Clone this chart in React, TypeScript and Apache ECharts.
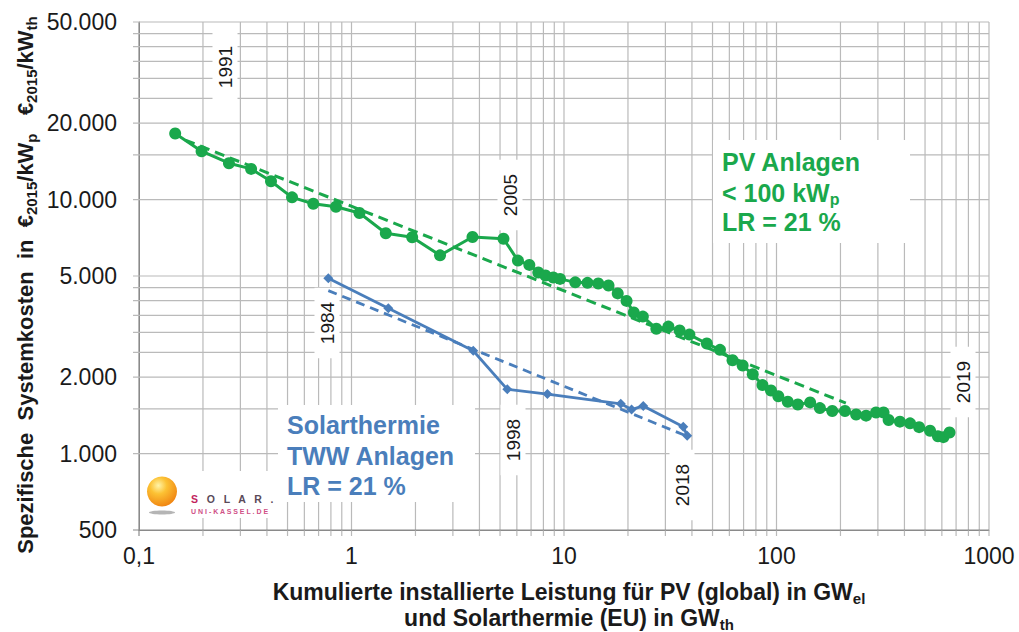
import React, { useEffect, useRef } from "react";
import * as echarts from "echarts";

// ---- data ----
const pvX = [0.148, 0.197, 0.265, 0.337, 0.418, 0.525, 0.661, 0.845, 1.09, 1.45, 1.93, 2.61, 3.71, 5.19, 6.07, 6.87, 7.57, 8.18, 8.9, 9.58, 11.3, 12.9, 14.5, 16.2, 17.9, 19.7, 21.3, 23.5, 27.2, 31.0, 35.0, 38.9, 47.0, 54.2, 62.1, 69.3, 77.3, 85.9, 94.2, 102, 113, 126, 144, 160, 183, 210, 237, 264, 294, 319, 337, 381, 425, 469, 528, 575, 610, 652];
const pvY = [18200, 15500, 13900, 13200, 11800, 10200, 9630, 9370, 8850, 7370, 7100, 6030, 7120, 7010, 5750, 5530, 5160, 5020, 4930, 4870, 4720, 4700, 4670, 4590, 4270, 3990, 3590, 3460, 3100, 3160, 3050, 2940, 2710, 2560, 2330, 2220, 2050, 1860, 1770, 1680, 1600, 1560, 1590, 1510, 1470, 1470, 1425, 1410, 1450, 1450, 1355, 1335, 1315, 1270, 1230, 1170, 1160, 1210];
const stX = [0.778, 1.49, 3.74, 5.41, 8.35, 18.5, 20.8, 23.6, 36.4, 38.0];
const stY = [4900, 3730, 2540, 1790, 1715, 1570, 1490, 1540, 1275, 1176];
const pvTrendX = [0.165, 212];
const pvTrendY = [17150, 1580];
const stTrendX = [0.778, 38.5];
const stTrendY = [4380, 1165];

const xGridValues = [0.1, 0.2, 0.3, 0.4, 0.5, 0.6, 0.7, 0.8, 0.9, 1, 2, 3, 4, 5, 6, 7, 8, 9, 10, 20, 30, 40, 50, 60, 70, 80, 90, 100, 200, 300, 400, 500, 600, 700, 800, 900, 1000];
const yMajorTicks = [500, 1000, 2000, 5000, 10000, 20000, 50000];
const yMinorTicks = [1500, 2500, 3000, 3500, 4000, 4500, 15000, 25000, 30000, 35000, 40000, 45000];
const yearLabels = ["1991", "2005", "1984", "1998", "2018", "2019"];

const X_MIN = 0.1, X_MAX = 1000, Y_MIN = 500, Y_MAX = 50000;
const FONT = '"Liberation Sans", Arial, sans-serif';
const GREEN = "#1aa84c";
const BLUE = "#4a7ebb";
const GRID = "#bababa";
const AXIS = "#8a8a8a";
const TXT = "#1a1a1a";

const fmtY = (v: number) => String(v).replace(/\B(?=(\d{3})+(?!\d))/g, ".");
const fmtX = (v: number) => String(v).replace(".", ",");

function rt(size: number, color: string, weight = "bold", lh = 28) {
  return { fontSize: size, fontWeight: weight, fontFamily: FONT, fill: color, color, lineHeight: lh };
}
function sub(size: number, color: string, lh = 14) {
  return { fontSize: size, fontWeight: "bold", fontFamily: FONT, fill: color, color, lineHeight: lh, verticalAlign: "bottom" };
}

function yearLabel(text: string, x: number, y: number) {
  return {
    type: "text", x, y, rotation: Math.PI / 2, z: 6,
    style: {
      text, fontSize: 19, fontFamily: FONT, fill: TXT, align: "center", verticalAlign: "middle",
      backgroundColor: "#ffffff", padding: [3, 14],
    },
  };
}

export default function App() {
  const ref = useRef<HTMLDivElement>(null);
  useEffect(() => {
    if (!ref.current) return;
    const chart = echarts.init(ref.current, undefined, { renderer: "svg" });
    const option: any = {
      animation: false,
      backgroundColor: "#ffffff",
      grid: { left: 139, right: 30, top: 22, bottom: 102 },
      xAxis: {
        type: "log", logBase: 10, min: X_MIN, max: X_MAX,
        axisLine: { show: true, lineStyle: { color: AXIS, width: 1 } },
        axisTick: { show: false },
        splitLine: { show: false },
        axisLabel: { formatter: (v: number) => fmtX(v), fontSize: 23, color: TXT, fontFamily: FONT, margin: 14 },
      },
      yAxis: {
        type: "log", logBase: 10, min: Y_MIN, max: Y_MAX,
        axisLine: { show: true, lineStyle: { color: AXIS, width: 1 } },
        axisTick: { show: false },
        splitLine: { show: false },
        axisLabel: { show: false },
      },
      series: [
        {
          type: "custom", name: "vgrid", coordinateSystem: "cartesian2d", z: 1, silent: true, clip: false,
          data: xGridValues.map((v) => [v, 1000]),
          renderItem: (_p: any, api: any) => {
            const v = api.value(0);
            const a = api.coord([v, Y_MIN]);
            const b = api.coord([v, Y_MAX]);
            return {
              type: "line",
              shape: { x1: a[0], y1: a[1] + 6, x2: b[0], y2: b[1] },
              style: { stroke: v === X_MIN ? AXIS : GRID, lineWidth: 1.2 },
            };
          },
        },
        {
          type: "custom", name: "hgrid", coordinateSystem: "cartesian2d", z: 1, silent: true, clip: false,
          data: [...yMajorTicks, ...yMinorTicks].map((v) => [1, v]),
          renderItem: (_p: any, api: any) => {
            const v = api.value(1);
            const a = api.coord([X_MIN, v]);
            const b = api.coord([X_MAX, v]);
            const children: any[] = [
              {
                type: "line",
                shape: { x1: a[0] - 6, y1: a[1], x2: b[0], y2: b[1] },
                style: { stroke: v === Y_MIN ? AXIS : GRID, lineWidth: 1.2 },
              },
            ];
            if (yMajorTicks.indexOf(v) >= 0) {
              children.push({
                type: "text", x: a[0] - 22, y: a[1],
                style: { text: fmtY(v), align: "right", verticalAlign: "middle", fontSize: 23, fontFamily: FONT, fill: TXT },
              });
            }
            return { type: "group", children };
          },
        },
        {
          type: "line", name: "PV Trend", z: 10, silent: true,
          data: pvTrendX.map((x, i) => [x, pvTrendY[i]]),
          showSymbol: false, symbol: "none",
          lineStyle: { color: GREEN, width: 3, type: [10, 6] },
        },
        {
          type: "line", name: "PV Anlagen", z: 11,
          data: pvX.map((x, i) => [x, pvY[i]]),
          symbol: "circle", symbolSize: 12,
          itemStyle: { color: GREEN },
          lineStyle: { color: GREEN, width: 3 },
        },
        {
          type: "line", name: "Solarthermie Trend", z: 10, silent: true,
          data: stTrendX.map((x, i) => [x, stTrendY[i]]),
          showSymbol: false, symbol: "none",
          lineStyle: { color: BLUE, width: 2.8, type: [9, 6] },
        },
        {
          type: "line", name: "Solarthermie", z: 11,
          data: stX.map((x, i) => [x, stY[i]]),
          symbol: "diamond", symbolSize: 10,
          itemStyle: { color: BLUE },
          lineStyle: { color: BLUE, width: 2.8 },
        },
      ],
      graphic: [
        // white boxes behind annotations
        { type: "rect", z: 5, shape: { x: 713, y: 140, width: 197, height: 103 }, style: { fill: "#ffffff" } },
        { type: "rect", z: 5, shape: { x: 278, y: 405, width: 197, height: 97 }, style: { fill: "#ffffff" } },
        { type: "rect", z: 5, shape: { x: 140, y: 471, width: 143, height: 47 }, style: { fill: "#ffffff" } },
        // year labels
        yearLabel(yearLabels[0], 225, 67),
        yearLabel(yearLabels[1], 510, 195),
        yearLabel(yearLabels[2], 327, 323),
        yearLabel(yearLabels[3], 513, 440),
        yearLabel(yearLabels[4], 682, 485),
        yearLabel(yearLabels[5], 963, 382),
        // PV legend text
        { type: "text", z: 6, x: 722, y: 162, style: { text: "{b|PV Anlagen}", rich: { b: rt(25, GREEN) }, verticalAlign: "middle" } },
        { type: "text", z: 6, x: 722, y: 193, style: { text: "{b|< 100 kW}{s|p}", rich: { b: rt(25, GREEN), s: sub(16, GREEN) }, verticalAlign: "middle" } },
        { type: "text", z: 6, x: 722, y: 222, style: { text: "{b|LR = 21 %}", rich: { b: rt(25, GREEN) }, verticalAlign: "middle" } },
        // Solarthermie legend text
        { type: "text", z: 6, x: 287, y: 425, style: { text: "{b|Solarthermie}", rich: { b: rt(25, BLUE) }, verticalAlign: "middle" } },
        { type: "text", z: 6, x: 287, y: 456, style: { text: "{b|TWW Anlagen}", rich: { b: rt(25, BLUE) }, verticalAlign: "middle" } },
        { type: "text", z: 6, x: 287, y: 486, style: { text: "{b|LR = 21 %}", rich: { b: rt(25, BLUE) }, verticalAlign: "middle" } },
        // logo
        { type: "ellipse", z: 6, shape: { cx: 162, cy: 512.5, rx: 13, ry: 2 }, style: { fill: "#b5b5b5" } },
        {
          type: "circle", z: 6, shape: { cx: 162, cy: 491.5, r: 15 },
          style: {
            fill: new echarts.graphic.RadialGradient(0.38, 0.3, 0.8, [
              { offset: 0, color: "#fff4a8" },
              { offset: 0.35, color: "#fcc234" },
              { offset: 1, color: "#ee7a0c" },
            ]),
          },
        },
        {
          type: "text", z: 6, x: 191, y: 499,
          style: {
            text: "{m|S}{g|   O   L   A   R   .}",
            rich: {
              m: { fontSize: 10.5, fontWeight: "bold", fontFamily: FONT, fill: "#c2245e" },
              g: { fontSize: 10.5, fontWeight: "bold", fontFamily: FONT, fill: "#5a4a58" },
            },
            verticalAlign: "middle",
          },
        },
        {
          type: "text", z: 6, x: 191, y: 511,
          style: { text: "U N I - K A S S E L . D E", fontSize: 7, fontWeight: "bold", fontFamily: FONT, fill: "#cf4f86", verticalAlign: "middle" },
        },
        // y axis title
        {
          type: "text", z: 6, x: 25, y: 285, rotation: Math.PI / 2,
          style: {
            text: "{b|Spezifische  Systemkosten  in  €}{s|2015}{b|/kW}{s|p}{b|   €}{s|2015}{b|/kW}{s|th}",
            rich: { b: rt(22, TXT), s: sub(15, TXT) },
            align: "center", verticalAlign: "middle",
          },
        },
        // x axis title
        {
          type: "text", z: 6, x: 569, y: 592,
          style: {
            text: "{b|Kumulierte installierte Leistung für PV (global) in GW}{s|el}",
            rich: { b: rt(23, TXT), s: sub(15, TXT) },
            align: "center", verticalAlign: "middle",
          },
        },
        {
          type: "text", z: 6, x: 569, y: 618,
          style: {
            text: "{b|und Solarthermie (EU) in GW}{s|th}",
            rich: { b: rt(23, TXT), s: sub(15, TXT) },
            align: "center", verticalAlign: "middle",
          },
        },
      ],
    };
    chart.setOption(option);
    return () => chart.dispose();
  }, []);
  return (
    <div
      ref={ref}
      style={{ position: "fixed", left: 0, top: 0, width: 1019, height: 632, background: "#ffffff" }}
    />
  );
}
